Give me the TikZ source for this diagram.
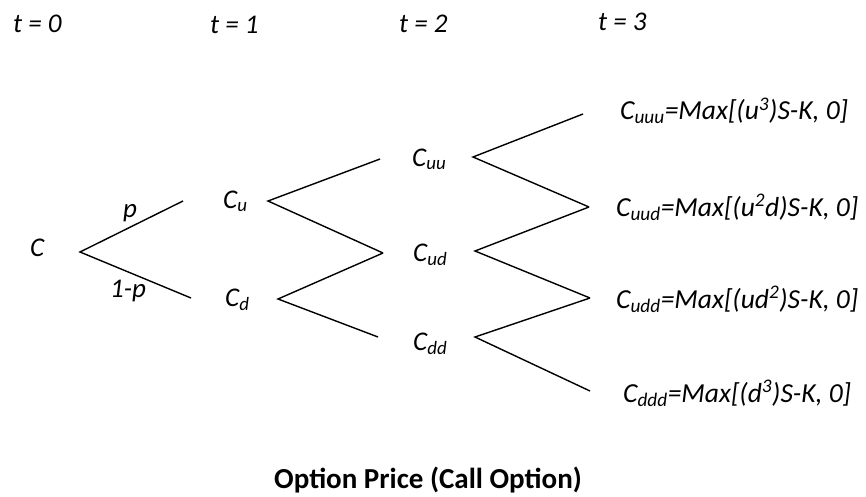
\documentclass[tikz,border=0pt]{standalone}
\usepackage{fontspec}
\setmainfont{Carlito}
\begin{document}
\begin{tikzpicture}[x=1pt, y=-1pt,
  lbl/.style={anchor=base west, inner sep=0pt, font=\fontsize{27}{30}\selectfont\itshape},
  payoff/.style={lbl, font=\fontsize{27.5}{32}\selectfont\itshape},
  branch/.style={black, line width=1.4pt},
  ttl/.style={anchor=base, inner sep=0pt, font=\fontsize{29}{34}\selectfont\bfseries}]
\useasboundingbox (0,0) rectangle (866,497);
% time steps
\foreach \tx/\ty/\tn in {13/33/0, 210/34/1, 399/33/2, 598/31/3}
  \node[lbl] (t\tn) at (\tx,\ty) {t = \tn};
% node values
\node[lbl] (C) at (30,256) {C};
\node[lbl] (Cu) at (223,208) {C\textsubscript{u}};
\node[lbl] (Cd) at (225,306) {C\textsubscript{d}};
\node[lbl] (Cuu) at (412,166) {C\textsubscript{uu}};
\node[lbl] (Cud) at (413,261) {C\textsubscript{ud}};
\node[lbl] (Cdd) at (413,350) {C\textsubscript{dd}};
\node[payoff] (Cuuu) at (620,120) {C\textsubscript{uuu}=Max[(u\textsuperscript{3})S-K, 0]};
\node[payoff] (Cuud) at (616,216) {C\textsubscript{uud}=Max[(u\textsuperscript{2}d)S-K, 0]};
\node[payoff] (Cudd) at (616,308) {C\textsubscript{udd}=Max[(ud\textsuperscript{2})S-K, 0]};
\node[payoff] (Cddd) at (623,402) {C\textsubscript{ddd}=Max[(d\textsuperscript{3})S-K, 0]};
% fork points
\coordinate (C-out) at (80,252);
\coordinate (Cu-in) at (183,201);
\coordinate (Cd-in) at (191,298);
\coordinate (Cu-out) at (268,201);
\coordinate (Cd-out) at (278,299);
\coordinate (Cuu-in) at (380,159);
\coordinate (Cud-in) at (383,253);
\coordinate (Cdd-in) at (378,337);
\coordinate (Cuu-out) at (473,157);
\coordinate (Cud-out) at (475,251);
\coordinate (Cdd-out) at (475,337);
\coordinate (Cuuu-in) at (583,114);
\coordinate (Cuud-in) at (589,207);
\coordinate (Cudd-in) at (590,298);
\coordinate (Cddd-in) at (590,391);
% branches
\draw[branch] (Cu-in) -- (C-out) -- (Cd-in);
\draw[branch] (Cuu-in) -- (Cu-out) -- (Cud-in);
\draw[branch] (Cud-in) -- (Cd-out) -- (Cdd-in);
\draw[branch] (Cuuu-in) -- (Cuu-out) -- (Cuud-in);
\draw[branch] (Cuud-in) -- (Cud-out) -- (Cudd-in);
\draw[branch] (Cudd-in) -- (Cdd-out) -- (Cddd-in);
% probabilities
\node[lbl] (p) at (123,217) {p};
\node[lbl] (q) at (110,297) {1-p};
% caption
\node[ttl] (title) at (428,488) {Option Price (Call Option)};
\end{tikzpicture}
\end{document}
